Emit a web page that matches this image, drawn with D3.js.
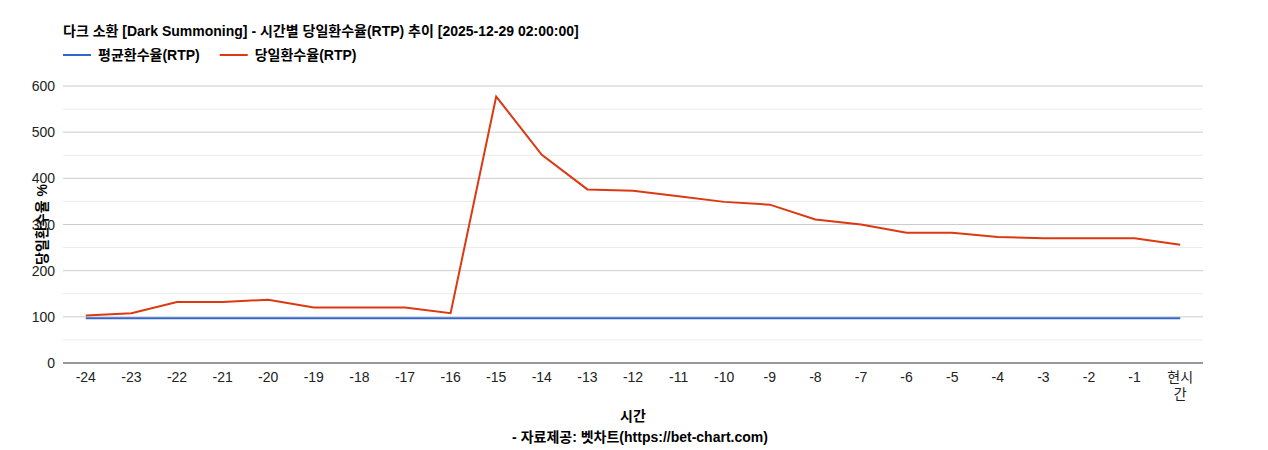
<!DOCTYPE html>
<html><head><meta charset="utf-8">
<script src="https://cdn.jsdelivr.net/npm/d3@7/dist/d3.min.js"></script>
<style>body{margin:0;background:#fff}</style>
</head><body><svg id="c" width="1268" height="450"></svg>
<script>
const categories=["-24","-23","-22","-21","-20","-19","-18","-17","-16","-15","-14","-13","-12","-11","-10","-9","-8","-7","-6","-5","-4","-3","-2","-1","현시간"];
const avgRtp=[97,97,97,97,97,97,97,97,97,97,97,97,97,97,97,97,97,97,97,97,97,97,97,97,97];
const dayRtp=[103,108,132,132,137,120,120,120,108,577,451,376,373,361,349,343,311,300,282,282,273,270,270,270,256];
const yTicks=[0,100,200,300,400,500,600];
const title="다크 소환 [Dark Summoning] - 시간별 당일환수율(RTP) 추이 [2025-12-29 02:00:00]";
const seriesNames=["평균환수율(RTP)","당일환수율(RTP)"];
const colors=["#3366cc","#dc3912"];
const svg=d3.select("#c");
const L=63,R=1203,T=86,B=363;
const x=d3.scalePoint().domain(categories).range([L,R]).padding(0.5);
const y=d3.scaleLinear().domain([0,600]).range([B,T]);
const font='"Liberation Sans",Arial,"Noto Sans CJK KR",sans-serif';
d3.range(50,600,100).forEach(v=>svg.append("line").attr("x1",L).attr("x2",R).attr("y1",y(v)).attr("y2",y(v)).attr("stroke","#ebebeb"));
yTicks.slice(1).forEach(v=>svg.append("line").attr("x1",L).attr("x2",R).attr("y1",y(v)).attr("y2",y(v)).attr("stroke","#cccccc"));
svg.append("line").attr("x1",L).attr("x2",R).attr("y1",B).attr("y2",B).attr("stroke","#333");
yTicks.forEach(v=>svg.append("text").attr("x",L-8).attr("y",y(v)+5).attr("text-anchor","end").attr("font-size",14).attr("font-family",font).attr("fill","#222").text(v));
categories.forEach(c=>{
  const t=svg.append("text").attr("x",x(c)).attr("y",B+19).attr("text-anchor","middle").attr("font-size",14).attr("font-family",font).attr("fill","#222");
  if(c==="현시간"){t.append("tspan").attr("x",x(c)).text("현시");t.append("tspan").attr("x",x(c)).attr("dy",17).text("간");}
  else t.text(c);
});
const line=d3.line().x((d,i)=>x(categories[i])).y(d=>y(d));
[avgRtp,dayRtp].forEach((s,k)=>svg.append("path").attr("d",line(s)).attr("fill","none").attr("stroke",colors[k]).attr("stroke-width",2));
svg.append("text").attr("x",63).attr("y",36).attr("font-size",14).attr("font-weight","bold").attr("font-family",font).text(title);
let lx=63;
seriesNames.forEach((n,k)=>{
  svg.append("line").attr("x1",lx).attr("x2",lx+28).attr("y1",55).attr("y2",55).attr("stroke",colors[k]).attr("stroke-width",2);
  const t=svg.append("text").attr("x",lx+35).attr("y",60).attr("font-size",14).attr("font-weight","bold").attr("font-family",font).text(n);
  lx+=35+t.node().getComputedTextLength()+20;
});
svg.append("text").attr("x",633).attr("y",421).attr("text-anchor","middle").attr("font-size",14).attr("font-weight","bold").attr("font-family",font).text("시간");
svg.append("text").attr("x",640).attr("y",442).attr("text-anchor","middle").attr("font-size",14).attr("font-weight","bold").attr("font-family",font).text("- 자료제공: 벳차트(https://bet-chart.com)");
svg.append("text").attr("transform",`translate(47,${(T+B)/2}) rotate(-90)`).attr("text-anchor","middle").attr("font-size",14).attr("font-weight","bold").attr("font-family",font).text("당일환수율 %");
</script></body></html>
